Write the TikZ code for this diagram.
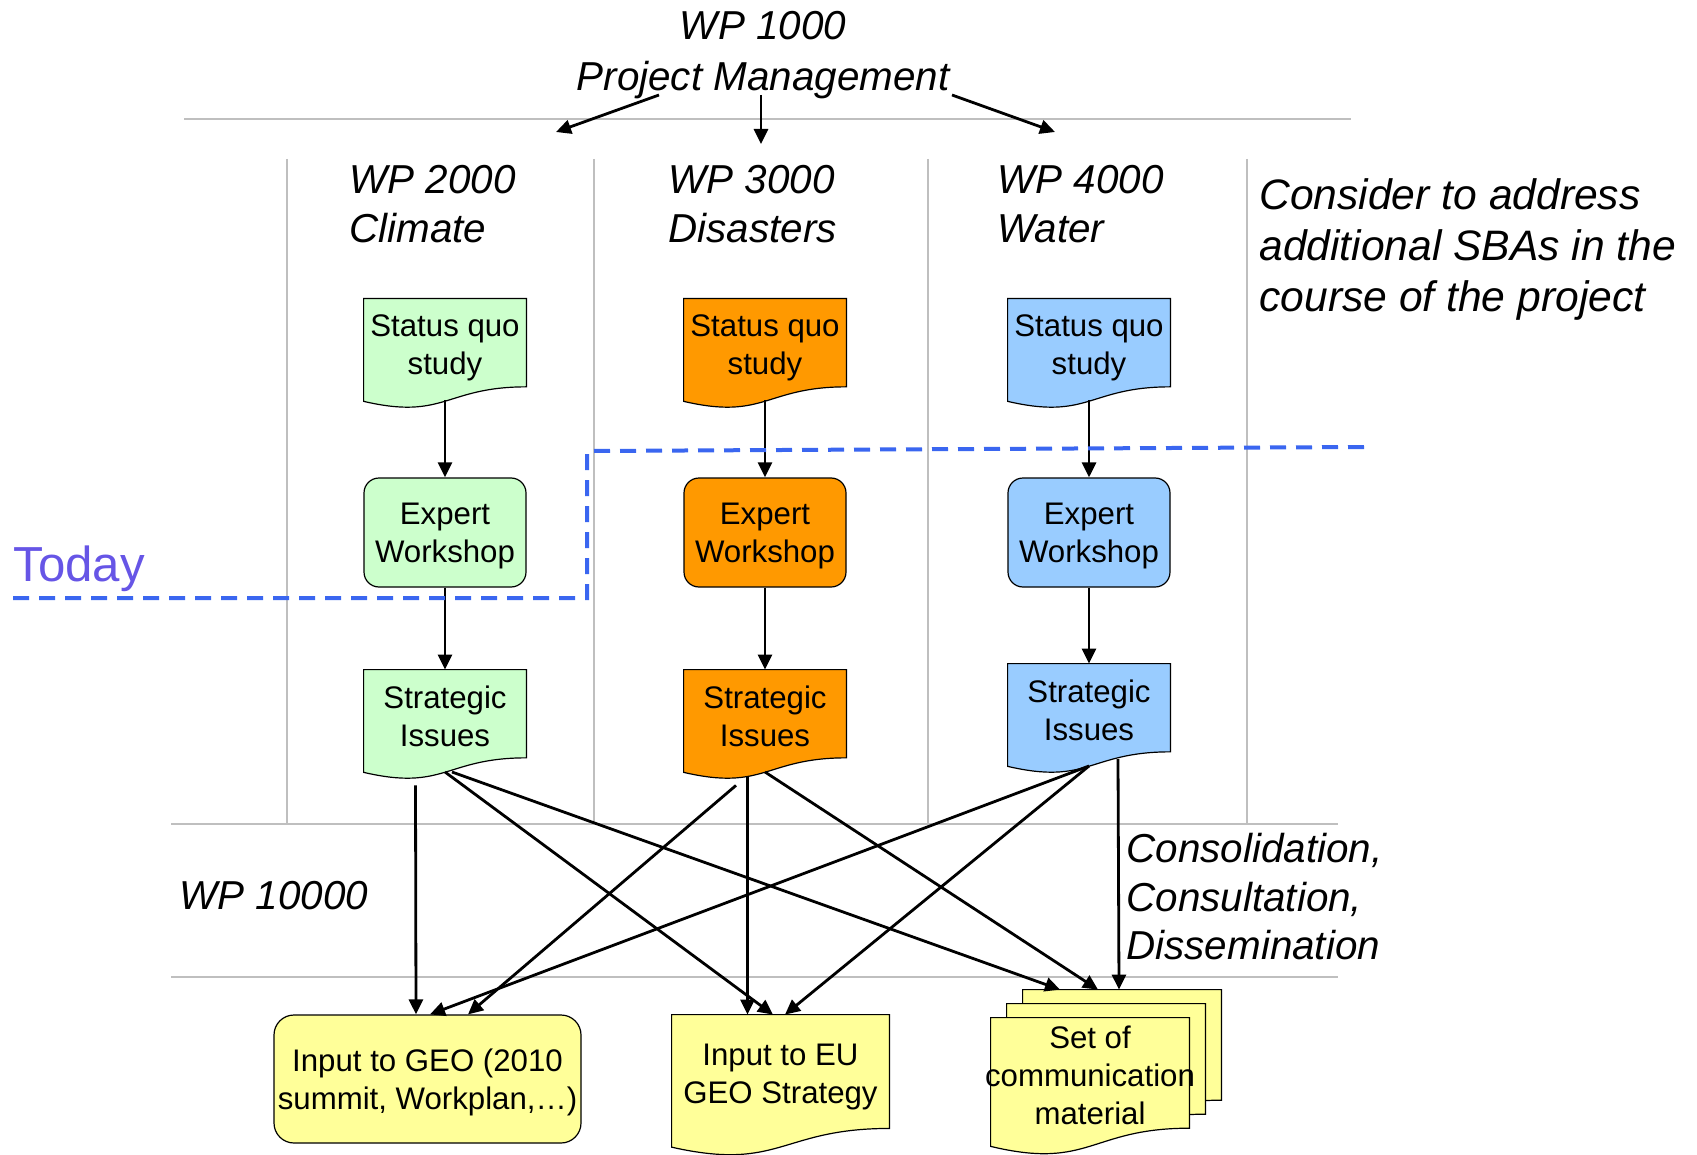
\documentclass[tikz,border=0pt]{standalone}
\usepackage{fontspec}
\setmainfont{Liberation Sans}
\usetikzlibrary{arrows.meta,calc,backgrounds}
\definecolor{wpgreen}{HTML}{CCFFCC}
\definecolor{wporange}{HTML}{FF9900}
\definecolor{wpblue}{HTML}{99CCFF}
\definecolor{wpyellow}{HTML}{FFFF99}
\definecolor{todayblue}{HTML}{3A66F0}
\definecolor{todaytext}{HTML}{6655E6}
% document shape behind a node (#1 = shift)
\newcommand\wpdoc[3][0,0]{%
  \filldraw[fill=#3,draw=black,line width=.6pt]
    ($(#2.north west)+(#1)$) -- ($(#2.north east)+(#1)$)
    -- ($(#2.north east)!.955!(#2.south east)+(#1)$)
    .. controls ($(#2.north)!.955!(#2.south)+(#1)$) and ($(#2.north)!1.318!(#2.south)+(#1)$)
    .. ($(#2.north west)!1.112!(#2.south west)+(#1)$) -- cycle;}
\begin{document}
\begin{tikzpicture}[x=0.5pt,y=-0.5pt,>={Triangle[length=7.5pt,width=7pt]},line join=miter]
	\tikzset{wpbox/.style={font=\fontsize{15.6}{19}\selectfont,align=center,inner sep=0pt,text depth=0pt,minimum width=81pt},
		doc/.style={wpbox,minimum height=45.8pt},
		work/.style={wpbox,draw,line width=.6pt,rounded corners=7.5pt,minimum height=54.5pt},
		head/.style={font=\fontsize{20.2}{24.3}\selectfont\itshape,align=left,inner sep=0pt,anchor=north west},
		link/.style={->,line width=1.4pt},
		sepline/.style={black!25,line width=.8pt}}
	\useasboundingbox (0,0) rectangle (1697,1155);
	% titles
	\node[head,anchor=center,align=center,font=\fontsize{20.2}{25.8}\selectfont\itshape] (pm) at (763,55) {WP 1000\\Project Management};
	\node[head] (wp2) at (349,165) {WP 2000\\Climate};
	\node[head] (wp3) at (668,165) {WP 3000\\Disasters};
	\node[head] (wp4) at (997,165) {WP 4000\\Water};
	\node[head,font=\fontsize{21.3}{25.5}\selectfont\itshape] (note) at (1259,178) {Consider to address\\additional SBAs in the\\course of the project};
	\node[head] (wp10) at (179,881) {WP 10000};
	\node[head] (cons) at (1126,833) {Consolidation,\\Consultation,\\Dissemination};
	\node[anchor=base west,inner sep=0pt,text=todaytext,font=\fontsize{24.6}{29}\selectfont] (today) at (13,581) {Today};
	% columns
	\foreach \n/\x/\c/\t in {1/445/wpgreen/670,2/765/wporange/670,3/1089/wpblue/664}{
		\node[doc] (sq\n) at (\x,344.8) {Status quo\\study};
		\node[work,fill=\c] (ew\n) at (\x,532.5) {Expert\\Workshop};
		\node[doc] (si\n) at (\x,{\t+45.8}) {Strategic\\Issues};}
	% outputs
	\node[work,fill=wpyellow,minimum width=153.5pt,minimum height=64pt,rounded corners=10pt] (geo) at (427.5,1079) {Input to GEO (2010\\summit, Workplan,…)};
	\node[doc,minimum width=108.5pt,minimum height=59.2pt] (eu) at (780.5,1074.2) {Input to EU\\GEO Strategy};
	\node[doc,minimum width=99pt,minimum height=57.5pt] (set) at (1090,1075.5) {Set of\\\makebox[95pt]{communication}\\material};
	\begin{scope}[on background layer]
		\draw[sepline] (184,119) -- (1351,119);
		\foreach \y in {824,977} \draw[sepline] (171,\y) -- (1338,\y);
		\foreach \x in {287,594,928,1247} \draw[sepline] (\x,159) -- (\x,823);
		\foreach \n/\c in {1/wpgreen,2/wporange,3/wpblue}{
			\wpdoc{sq\n}{\c}
			\wpdoc{si\n}{\c}}
		\wpdoc{eu}{wpyellow}
		\wpdoc[32,-28]{set}{wpyellow}
		\wpdoc[16,-14]{set}{wpyellow}
		\wpdoc{set}{wpyellow}
	\end{scope}
	% arrows
	\draw[link] ($(pm)+(-104,40)$) -- ++(-103,37);
	\draw[link] ($(pm)+(-2,40)$) -- ++(0,49);
	\draw[link] ($(pm)+(189,40)$) -- ++(103,37);
	\foreach \n in {1,2,3}{
		\draw[link] ([yshift=-4.5pt]sq\n.south) -- (ew\n);
		\draw[link] (ew\n) -- (si\n);}
	\draw[link] ([xshift=-14.75pt,yshift=-11.7pt]si1.south) -- ([xshift=-5.75pt]geo.north);
	\draw[link] ([yshift=-5pt]si1.south) -- ([xshift=-3.75pt]eu.north);
	\draw[link] ([xshift=3.5pt,yshift=-5pt]si1.south) -- ([xshift=-15pt,yshift=14pt]set.north);
	\draw[link] ([xshift=-14.5pt,yshift=-11.7pt]si2.south) -- ([xshift=20.25pt]geo.north);
	\draw[link] ([xshift=-8.75pt,yshift=-7.7pt]si2.south) -- ([xshift=-16.5pt]eu.north);
	\draw[link] ([yshift=-5pt]si2.south) -- ([xshift=4pt,yshift=14pt]set.north);
	\draw[link] ([yshift=-5pt]si3.south) -- ([xshift=1.25pt]geo.north);
	\draw[link] ([yshift=-5pt]si3.south) -- ([xshift=2.25pt]eu.north);
	\draw[link] ([xshift=14.5pt,yshift=-1.5pt]si3.south) -- ([xshift=14.5pt,yshift=14pt]set.north);
	% today line
	\draw[todayblue,line width=2pt,dash pattern=on 8pt off 5pt] (13,598) -- (587,598) -- (587,451) -- (1366,447);
\end{tikzpicture}
\end{document}
